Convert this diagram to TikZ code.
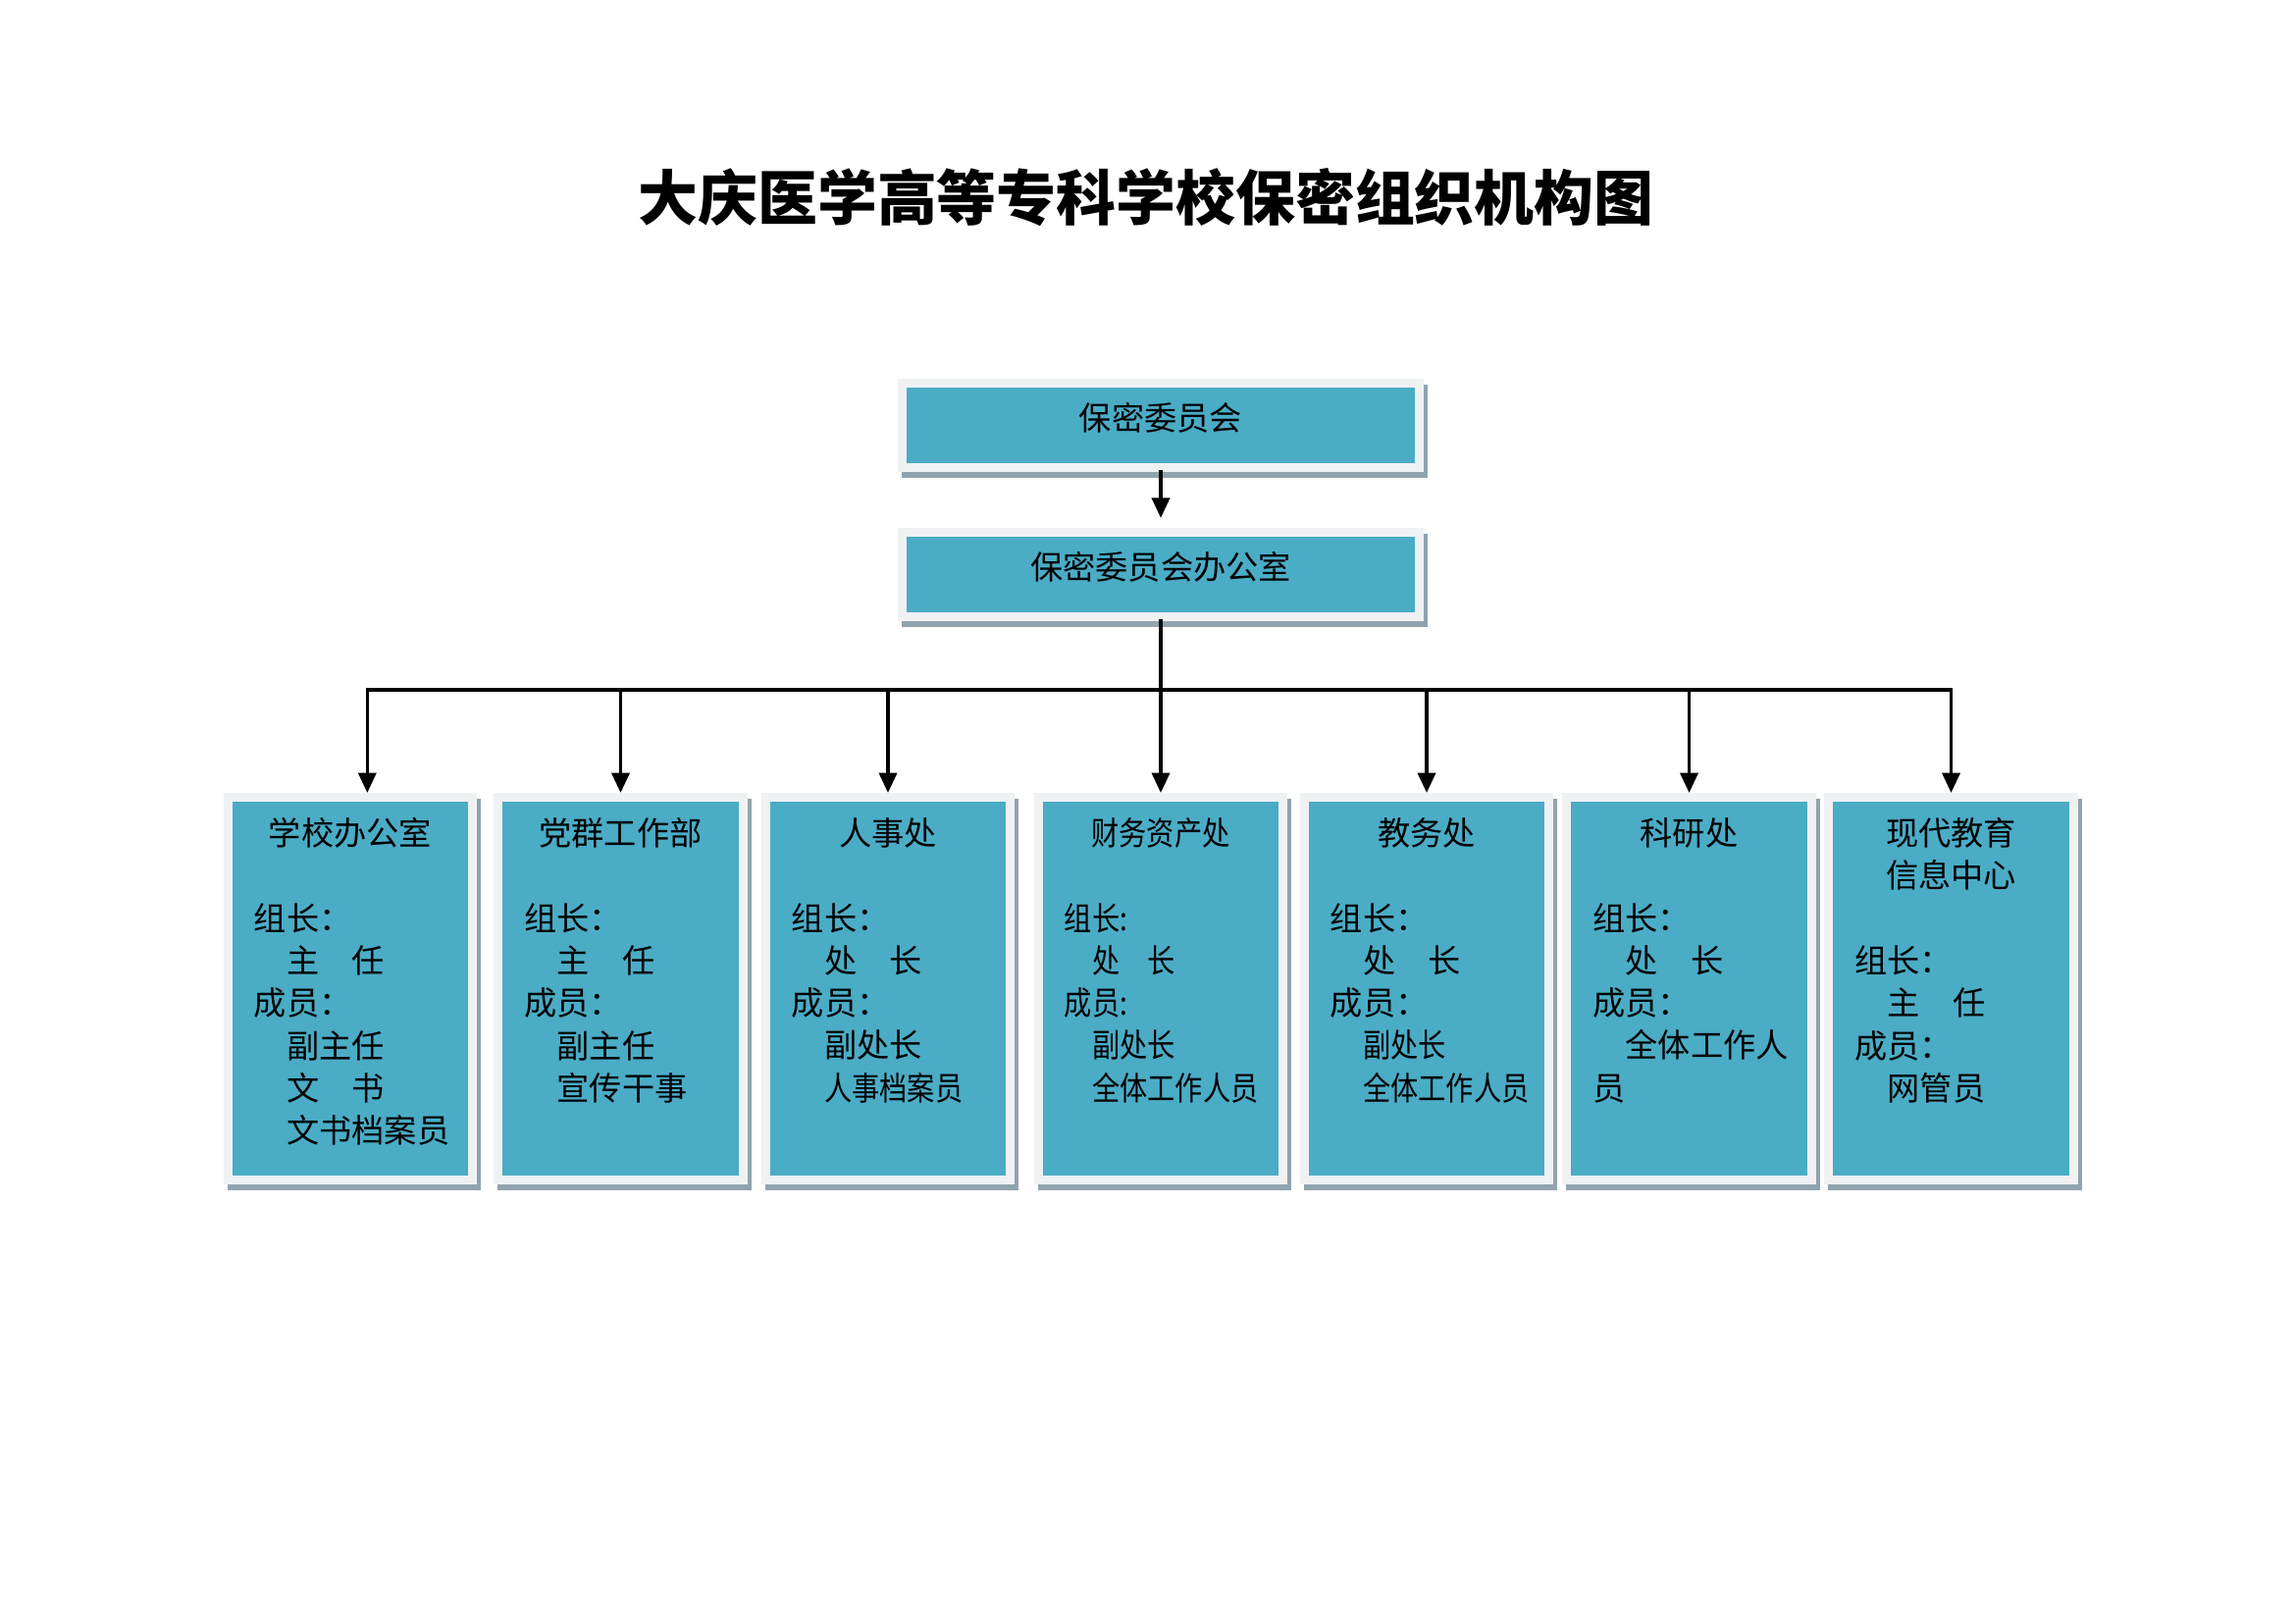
\documentclass[tikz,border=0pt]{standalone}
\usepackage{fontspec,graphicx}
\setmainfont{Noto Sans CJK SC}
\usetikzlibrary{arrows.meta,shadows}
\definecolor{deptteal}{HTML}{4BACC6}
\definecolor{framegray}{HTML}{EFF1F3}
\definecolor{shadegray}{HTML}{90A4AE}
\newcommand{\thinrow}[1]{\scalebox{0.85}[1]{#1}}
\newcommand{\deptcell}[2]{\parbox[t][44.2mm][t]{24.9mm}{\centering #1\par\vspace{5.5mm}\raggedright #2}}

\begin{document}
\begin{tikzpicture}[x=0.127mm,y=-0.127mm,
        unit/.style={draw=framegray,line width=1.14mm,fill=deptteal,inner sep=0pt,font=\fontsize{12pt}{5.5mm}\selectfont,
            drop shadow={shadow xshift=0.5mm,shadow yshift=-0.8mm,fill=shadegray,draw=shadegray,line width=1.14mm,opacity=1}},
        head/.style={unit,minimum width=66.9mm,minimum height=10.9mm,text height=3.6mm,text depth=2.3mm},
        dept/.style={unit,inner xsep=3.37mm,inner ysep=2.67mm},
        link/.style={line width=0.45mm,line cap=rect},
        arr/.style={link,-{Triangle[length=2.6mm,width=2.3mm]}}]
            \useasboundingbox (0,0) rectangle (2339,1654);
            \node[font=\fontsize{22pt}{26pt}\selectfont\bfseries] (title) at (1168,201) {大庆医学高等专科学校保密组织机构图};
            \node[head] (top) at (1183,433.5) {保密委员会};
            \node[head] (office) at (1183,585.5) {保密委员会办公室};
            \node[dept] (school) at (357,1007.5) {\deptcell{学校办公室}{组长：\\　主　任\\成员：\\　副主任\\　文　书\\　文书档案员}};
            \node[dept] (party) at (632.5,1007.5) {\deptcell{党群工作部}{组长：\\　主　任\\成员：\\　副主任\\　宣传干事}};
            \node[dept] (hr) at (905,1007.5) {\deptcell{人事处}{组长：\\　处　长\\成员：\\　副处长\\　\thinrow{人事档案员}}};
            \node[dept] (finance) at (1183,1007.5) {\deptcell{\thinrow{财务资产处}}{\thinrow{组长:}\\\thinrow{　处　长}\\\thinrow{成员:}\\\thinrow{　副处长}\\\thinrow{　全体工作人员}}};
            \node[dept] (academic) at (1454,1007.5) {\deptcell{教务处}{组长：\\　处　长\\成员：\\　\thinrow{副处长}\\　\thinrow{全体工作人员}}};
            \node[dept] (research) at (1721.5,1007.5) {\deptcell{科研处}{组长：\\　处　长\\成员：\\　全体工作人\\员}};
            \node[dept] (info) at (1988.5,1007.5) {\deptcell{现代教育\\信息中心}{组长：\\　主　任\\成员：\\　网管员}};
            \coordinate (bus) at (1183,703);
            \coordinate (drop1) at ([xshift=2.2mm]school.north);
            \draw[arr,shorten >=1.3mm] (top) -- (office);
            \draw[link] (office) -- (bus);
            \draw[link] (drop1 |- bus) -- (info.north |- bus);
            \draw[arr] (drop1 |- bus) -- (drop1);
            \foreach \n in {party,hr,finance,academic,research,info}
                \draw[arr] (\n.north |- bus) -- (\n.north);
        \end{tikzpicture}
\end{document}
